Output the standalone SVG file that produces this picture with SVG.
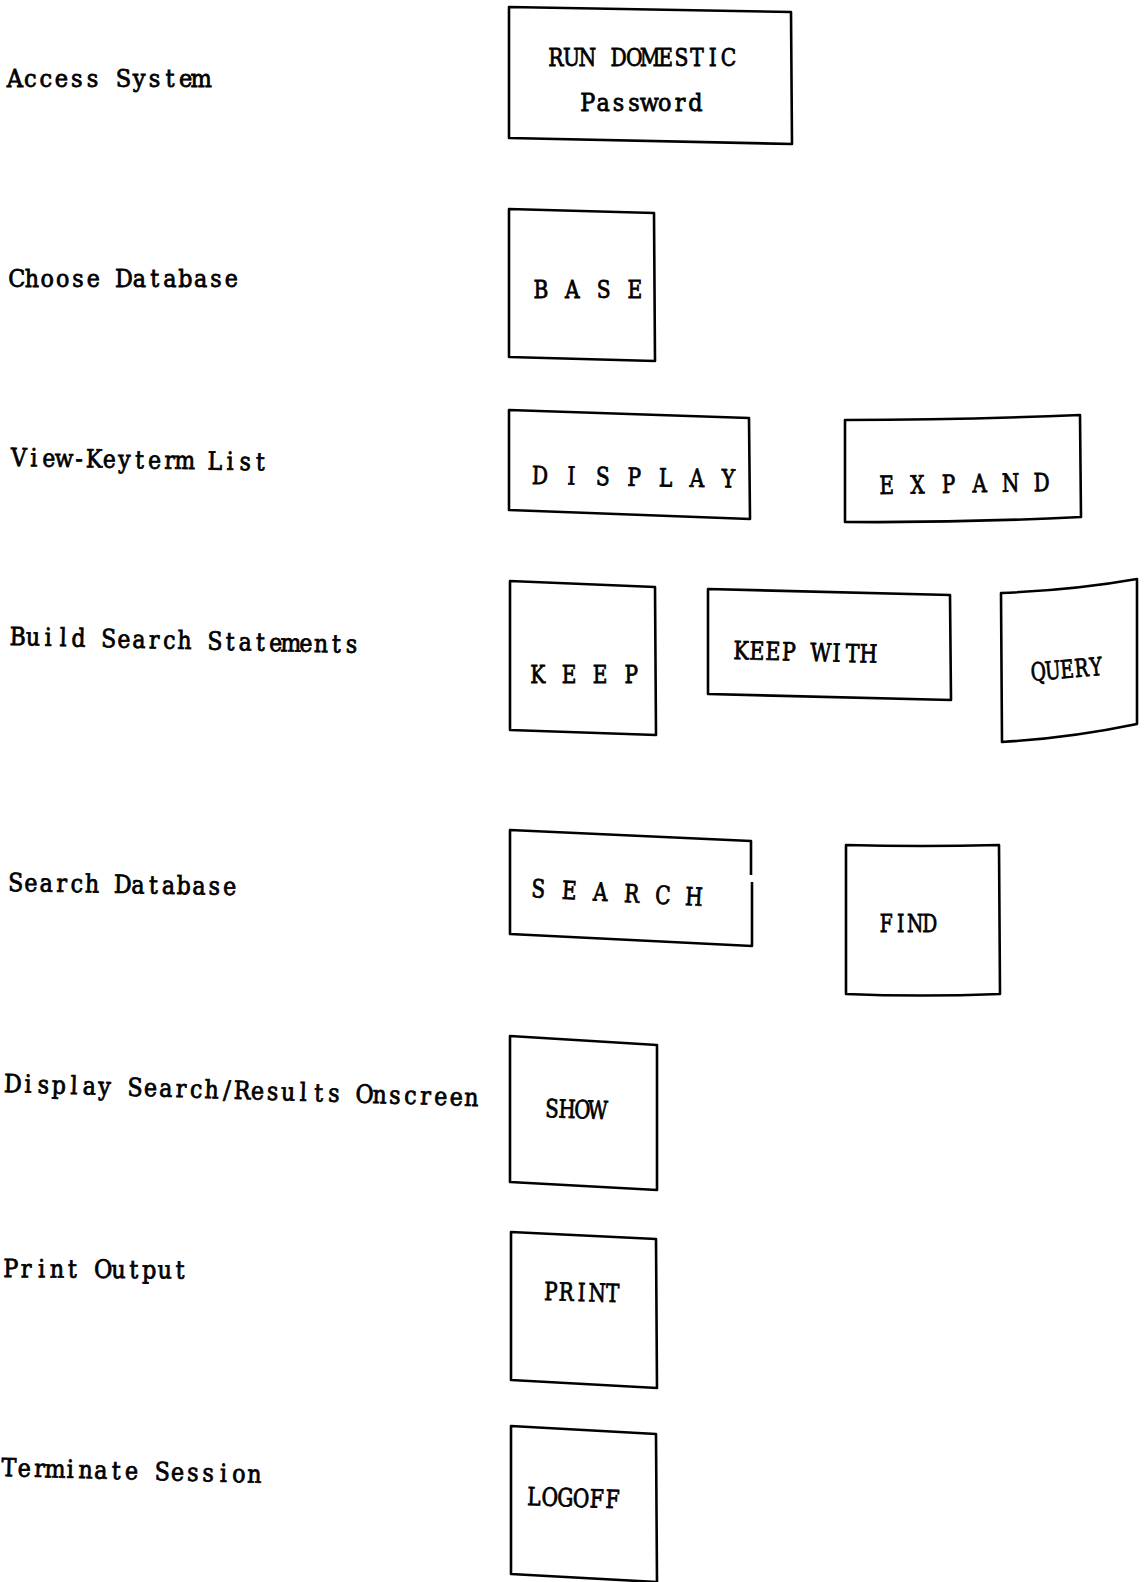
<svg xmlns="http://www.w3.org/2000/svg" width="1145" height="1582" viewBox="0 0 1145 1582">
<style>
.t{font-family:"DejaVu Serif","Liberation Serif",serif;font-size:25px;fill:#000;stroke:#000;stroke-width:0.8;text-anchor:middle}
.b{fill:none;stroke:#000;stroke-width:2.6;stroke-linejoin:round}
</style>
<rect width="1145" height="1582" fill="#fff"/>
<g id="labels">
<g id="lbl-access"><text class="t" transform="translate(7 87) scale(0.902 1)" x="8.61 25.83 43.06 60.28 77.50 94.72 111.94 129.17 146.39 163.61 180.83 198.06 215.28 232.50 249.72 266.94 284.17 301.39 318.61 335.83 353.06 370.28 387.50 404.72 421.94 439.17 456.39 473.61 490.83 508.06 525.28" y="0">Access System</text></g>
<g id="lbl-choose"><text class="t" transform="translate(9 287) scale(0.89 1)" x="8.61 25.83 43.06 60.28 77.50 94.72 111.94 129.17 146.39 163.61 180.83 198.06 215.28 232.50 249.72 266.94 284.17 301.39 318.61 335.83 353.06 370.28 387.50 404.72 421.94 439.17 456.39 473.61 490.83 508.06 525.28" y="0">Choose Database</text></g>
<g id="lbl-view"><text class="t" transform="translate(11 466) rotate(1) scale(0.877 1)" x="8.61 25.83 43.06 60.28 77.50 94.72 111.94 129.17 146.39 163.61 180.83 198.06 215.28 232.50 249.72 266.94 284.17 301.39 318.61 335.83 353.06 370.28 387.50 404.72 421.94 439.17 456.39 473.61 490.83 508.06 525.28" y="0">View-Keyterm List</text></g>
<g id="lbl-build"><text class="t" transform="translate(10 645) rotate(1.3) scale(0.881 1)" x="8.61 25.83 43.06 60.28 77.50 94.72 111.94 129.17 146.39 163.61 180.83 198.06 215.28 232.50 249.72 266.94 284.17 301.39 318.61 335.83 353.06 370.28 387.50 404.72 421.94 439.17 456.39 473.61 490.83 508.06 525.28" y="0">Build Search Statements</text></g>
<g id="lbl-search"><text class="t" transform="translate(8 891) rotate(1) scale(0.887 1)" x="8.61 25.83 43.06 60.28 77.50 94.72 111.94 129.17 146.39 163.61 180.83 198.06 215.28 232.50 249.72 266.94 284.17 301.39 318.61 335.83 353.06 370.28 387.50 404.72 421.94 439.17 456.39 473.61 490.83 508.06 525.28" y="0">Search Database</text></g>
<g id="lbl-display"><text class="t" transform="translate(5 1092) rotate(1.7) scale(0.888 1)" x="8.61 25.83 43.06 60.28 77.50 94.72 111.94 129.17 146.39 163.61 180.83 198.06 215.28 232.50 249.72 266.94 284.17 301.39 318.61 335.83 353.06 370.28 387.50 404.72 421.94 439.17 456.39 473.61 490.83 508.06 525.28" y="0">Display Search/Results Onscreen</text></g>
<g id="lbl-print"><text class="t" transform="translate(3 1277) rotate(0.5) scale(0.894 1)" x="8.61 25.83 43.06 60.28 77.50 94.72 111.94 129.17 146.39 163.61 180.83 198.06 215.28 232.50 249.72 266.94 284.17 301.39 318.61 335.83 353.06 370.28 387.50 404.72 421.94 439.17 456.39 473.61 490.83 508.06 525.28" y="0">Print Output</text></g>
<g id="lbl-term"><text class="t" transform="translate(1 1476) rotate(1.5) scale(0.891 1)" x="8.61 25.83 43.06 60.28 77.50 94.72 111.94 129.17 146.39 163.61 180.83 198.06 215.28 232.50 249.72 266.94 284.17 301.39 318.61 335.83 353.06 370.28 387.50 404.72 421.94 439.17 456.39 473.61 490.83 508.06 525.28" y="0">Terminate Session</text></g>
</g>
<g id="n-run">
<path class="b" d="M509 7 L791 12 L792 144 L509 138 Z"/>
<text class="t" transform="translate(548 66) scale(0.81 1)" x="9.69 29.06 48.44 67.81 87.19 106.56 125.94 145.31 164.69 184.06 203.44 222.81 242.19 261.56 280.94 300.31" y="0">RUN DOMESTIC</text>
<text class="t" transform="translate(580 111) scale(0.894 1)" x="8.61 25.83 43.06 60.28 77.50 94.72 111.94 129.17 146.39 163.61 180.83" y="0">Password</text>
</g>
<g id="n-base">
<path class="b" d="M509 209 L654 213 L655 361 L509 357 Z"/>
<text class="t" transform="translate(533 298) scale(0.81 1)" x="9.69 29.06 48.44 67.81 87.19 106.56 125.94 145.31 164.69" y="0">B A S E</text>
</g>
<g id="n-display">
<path class="b" d="M509 410 L749 418 L750 519 L509 510 Z"/>
<text class="t" transform="translate(532 484) rotate(1) scale(0.81 1)" x="9.69 29.06 48.44 67.81 87.19 106.56 125.94 145.31 164.69 184.06 203.44 222.81 242.19 261.56" y="0">D I S P L A Y</text>
</g>
<g id="n-expand">
<path class="b" d="M845 420 Q960 420 1080 415 L1081 517 Q960 523 845 522 Z"/>
<text class="t" transform="translate(879 494) rotate(-1) scale(0.8 1)" x="9.69 29.06 48.44 67.81 87.19 106.56 125.94 145.31 164.69 184.06 203.44 222.81" y="0">E X P A N D</text>
</g>
<g id="n-keep">
<path class="b" d="M510 581 L655 587 L656 735 L510 730 Z"/>
<text class="t" transform="translate(530 683) scale(0.805 1)" x="9.69 29.06 48.44 67.81 87.19 106.56 125.94 145.31" y="0">K E E P</text>
</g>
<g id="n-keepwith">
<path class="b" d="M708 589 L950 595 L951 700 L708 694 Z"/>
<text class="t" transform="translate(733 659) rotate(1.5) scale(0.821 1)" x="9.69 29.06 48.44 67.81 87.19 106.56 125.94 145.31 164.69 184.06" y="0">KEEP WITH</text>
</g>
<g id="n-query">
<path class="b" d="M1001 593 Q1075 590 1137 579 L1137 724 Q1070 738 1002 742 Z"/>
<text class="t" transform="translate(1032 681) rotate(-5) scale(0.743 1)" x="9.69 29.06 48.44 67.81 87.19 106.56" y="0">QUERY</text>
</g>
<g id="n-search">
<path class="b" d="M751 875 L751 841 L510 830 L510 934 L752 946 L752 882"/>
<text class="t" transform="translate(530 897) rotate(3) scale(0.805 1)" x="9.69 29.06 48.44 67.81 87.19 106.56 125.94 145.31 164.69 184.06 203.44 222.81" y="0">S E A R C H</text>
</g>
<g id="n-find">
<path class="b" d="M846 845 Q920 847 999 845 L1000 994 Q920 997 846 994 Z"/>
<text class="t" transform="translate(879 932) scale(0.748 1)" x="9.69 29.06 48.44 67.81 87.19" y="0">FIND</text>
</g>
<g id="n-show">
<path class="b" d="M510 1036 L657 1045 L657 1190 L510 1182 Z"/>
<text class="t" transform="translate(544 1117) rotate(2) scale(0.787 1)" x="9.69 29.06 48.44 67.81 87.19" y="0">SHOW</text>
</g>
<g id="n-print">
<path class="b" d="M511 1232 L656 1239 L657 1388 L511 1380 Z"/>
<text class="t" transform="translate(543 1300) rotate(1.5) scale(0.795 1)" x="9.69 29.06 48.44 67.81 87.19 106.56" y="0">PRINT</text>
</g>
<g id="n-logoff">
<path class="b" d="M511 1426 L656 1434 L657 1582 L511 1574 Z"/>
<text class="t" transform="translate(526 1505) rotate(2) scale(0.81 1)" x="9.69 29.06 48.44 67.81 87.19 106.56 125.94" y="0">LOGOFF</text>
</g>
<g id="connectors"/>
</svg>
